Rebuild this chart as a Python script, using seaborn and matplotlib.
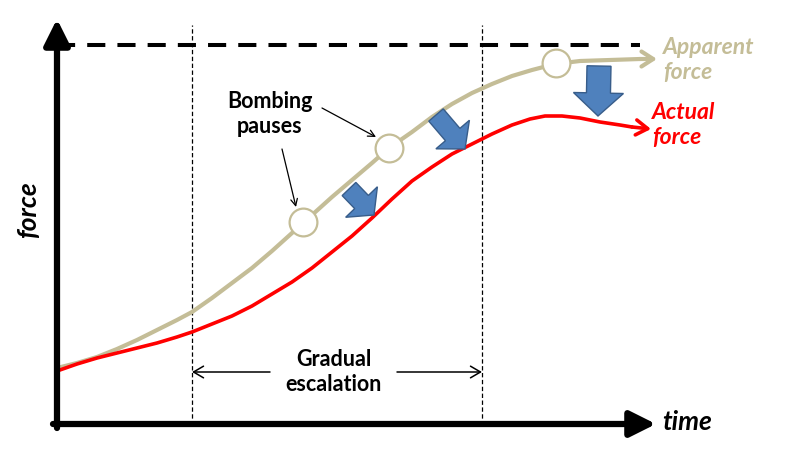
import numpy as np
import pandas as pd
import seaborn as sns
import matplotlib.pyplot as plt
from matplotlib.patches import FancyArrow

# canvas units: 1 unit = 1 px, force measured upward from the bottom edge
H = 453

# curves (time, height from top)
apparent_t = [57, 77, 97, 117, 137, 157, 177, 192, 212, 232, 252, 272, 292, 312, 332, 352, 372, 389,
              412, 432, 452, 472, 492, 512, 532, 555, 580, 610, 640]
apparent_y = [368, 363, 357, 349, 340, 330, 320, 312, 298, 283, 268, 251, 233, 215, 197, 180, 163, 148,
              132, 117, 104, 93, 84, 76, 70, 64, 61, 60, 59]
apparent_tip = (657, 59)

actual_t = [57, 77, 97, 117, 137, 157, 177, 192, 212, 232, 252, 272, 292, 312, 332, 352, 372, 392,
            412, 432, 452, 472, 492, 512, 530, 545, 562, 580, 600, 620, 632]
actual_y = [371, 364, 358, 353, 348, 343, 337, 332, 324, 316, 306, 294, 282, 268, 252, 236, 218, 199,
            181, 167, 154, 144, 134, 125, 119, 116, 116, 118, 122, 125, 127]
actual_tip = (651, 129)

# bombing pauses (circles on apparent curve)
pause_t = [303, 389, 556]
pause_y = [222, 148, 63]

# blue block arrows: tail -> tip
drop_tail = [(349, 189), (436, 115), (599, 66)]
drop_tip = [(374, 215), (465, 149), (598, 116)]
drop_size = [(19, 44, 18), (19, 44, 19), (24, 50, 23)]

escalation_start, escalation_end = 192, 482
max_force_y = 45

tan = "#C4BD97"
red = "#FF0000"

sns.set_theme(style="white")
plt.rcParams["font.family"] = ["Lato", "DejaVu Sans"]
plt.rcParams["text.color"] = "black"

df = pd.concat([
    pd.DataFrame({"time": apparent_t, "force": [H - v for v in apparent_y], "series": "Apparent force"}),
    pd.DataFrame({"time": actual_t, "force": [H - v for v in actual_y], "series": "Actual force"}),
])

fig = plt.figure(figsize=(7.9, 4.53), dpi=100)
ax = fig.add_axes([0, 0, 1, 1])
ax.set_xlim(0, 790)
ax.set_ylim(0, H)
ax.axis("off")

# reference lines
ax.plot([57, 640], [H - max_force_y] * 2, color="black", lw=2.9, ls=(0, (4.5, 3)), zorder=1)
for xv in [escalation_start, escalation_end]:
    ax.plot([xv, xv], [H - 425, H - 25], color="black", lw=0.9, ls=(0, (3.5, 2)), zorder=1)

sns.lineplot(data=df, x="time", y="force", hue="series", palette={"Apparent force": tan, "Actual force": red},
             sort=False, estimator=None, legend=False, ax=ax, zorder=3)
ax.lines[-2].set_linewidth(3.0)
ax.lines[-1].set_linewidth(2.6)
for l in ax.lines[-2:]:
    l.set_solid_joinstyle("round")
for t, y, tip, c, lw in [(apparent_t, apparent_y, apparent_tip, tan, 3.0), (actual_t, actual_y, actual_tip, red, 2.6)]:
    ax.annotate("", xy=(tip[0], H - tip[1]), xytext=(t[-1], H - y[-1]),
                arrowprops=dict(arrowstyle="->,head_length=0.7,head_width=0.45", color=c, lw=lw,
                                shrinkA=0, shrinkB=0), zorder=3)

ax.scatter(pause_t, [H - v for v in pause_y], s=400, facecolor="white", edgecolor=tan, linewidth=1.6, zorder=4)

for (x0, y0), (x1, y1), (w, hw, hl) in zip(drop_tail, drop_tip, drop_size):
    ax.add_patch(FancyArrow(x0, H - y0, x1 - x0, -(y1 - y0), width=w, head_width=hw, head_length=hl,
                            length_includes_head=True, facecolor="#4F81BD", edgecolor="#385D8A", lw=1, zorder=5))

# axes arrows
ax.annotate("", xy=(57, H - 19), xytext=(57, H - 428),
            arrowprops=dict(arrowstyle="-|>,head_length=1.3,head_width=0.65", color="black", lw=4.5,
                            shrinkA=0, shrinkB=0), zorder=6)
ax.annotate("", xy=(656, H - 424), xytext=(53, H - 424),
            arrowprops=dict(arrowstyle="-|>,head_length=1.3,head_width=0.65", color="black", lw=4.5,
                            shrinkA=0, shrinkB=0), zorder=6)

ax.text(662, H - 422, "time", fontsize=19, fontweight="bold", fontstyle="italic", ha="left", va="center")
ax.text(28, H - 210, "force", fontsize=19, fontweight="bold", fontstyle="italic", rotation=90, ha="center", va="center")

ax.text(663, H - 60, "Apparent\nforce", fontsize=16.5, fontweight="bold", fontstyle="italic", color=tan,
        ha="left", va="center", linespacing=1.2)
ax.text(652, H - 125, "Actual\nforce", fontsize=16.5, fontweight="bold", fontstyle="italic", color=red,
        ha="left", va="center", linespacing=1.2)

ax.text(270, H - 114, "Bombing\npauses", fontsize=15.5, fontweight="bold", ha="center", va="center", linespacing=1.25)
ax.annotate("", xy=(296, H - 207), xytext=(282, H - 149),
            arrowprops=dict(arrowstyle="->", color="black", lw=0.9, shrinkA=0, shrinkB=0))
ax.annotate("", xy=(376, H - 137), xytext=(322, H - 108),
            arrowprops=dict(arrowstyle="->", color="black", lw=0.9, shrinkA=0, shrinkB=0))

ax.text(334, H - 372, "Gradual\nescalation", fontsize=15.5, fontweight="bold", ha="center", va="center", linespacing=1.25)
ax.annotate("", xy=(escalation_start, H - 372), xytext=(270, H - 372),
            arrowprops=dict(arrowstyle="->,head_length=0.6,head_width=0.35", color="black", lw=1.1, shrinkA=0, shrinkB=0))
ax.annotate("", xy=(escalation_end, H - 372), xytext=(397, H - 372),
            arrowprops=dict(arrowstyle="->,head_length=0.6,head_width=0.35", color="black", lw=1.1, shrinkA=0, shrinkB=0))

fig.savefig("out.png", dpi=100)
